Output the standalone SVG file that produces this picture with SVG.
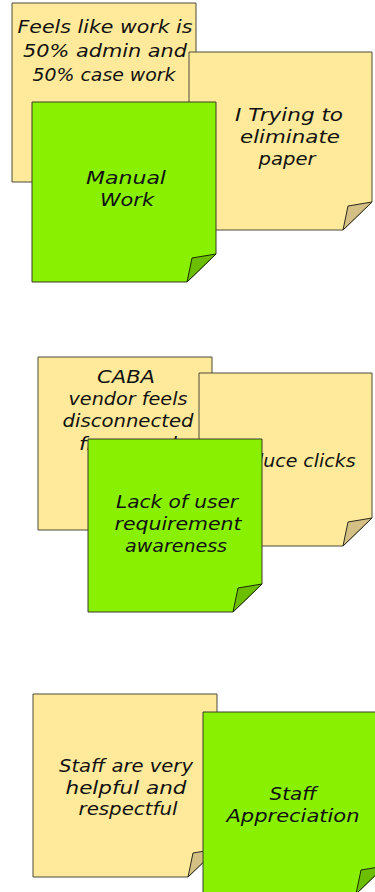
<svg xmlns="http://www.w3.org/2000/svg" width="375" height="892" viewBox="0 0 375 892">
  <style>
    .yellow { fill: #feea9a; stroke: #4a4a3a; stroke-width: 1; }
    .green { fill: #88f000; stroke: #3a3a2a; stroke-width: 1; }
    .curl-y { fill: #d4c085; stroke: #2a2a1a; stroke-width: 1; stroke-linejoin: round; }
    .curl-g { fill: #6cbf00; stroke: #1a2a00; stroke-width: 1; stroke-linejoin: round; }
    text { font-family: "DejaVu Sans", "Liberation Sans", sans-serif; font-style: italic; font-size: 18px; fill: #111; text-anchor: middle; }
  </style>

  <!-- Cluster 1 -->
  <g id="note-admin">
    <path class="yellow" d="M12 3 H196 V154 L167 182 H12 Z"/>
    <path class="curl-y" d="M196 154 L172 158 L167 182 Z"/>
    <text x="105" y="33" textLength="175" lengthAdjust="spacingAndGlyphs">Feels like work is</text>
    <text x="105" y="57" textLength="164" lengthAdjust="spacingAndGlyphs">50% admin and</text>
    <text x="104" y="81" textLength="143" lengthAdjust="spacingAndGlyphs">50% case work</text>
  </g>
  <g id="note-paper">
    <path class="yellow" d="M189 52 H372 V202 L343 230 H189 Z"/>
    <path class="curl-y" d="M372 202 L348 206 L343 230 Z"/>
    <text x="289" y="121" textLength="108" lengthAdjust="spacingAndGlyphs">I Trying to</text>
    <text x="290" y="143" textLength="100" lengthAdjust="spacingAndGlyphs">eliminate</text>
    <text x="287" y="165" textLength="57" lengthAdjust="spacingAndGlyphs">paper</text>
  </g>
  <g id="theme-manual-work">
    <path class="green" d="M32 102 H216 V254 L187 282 H32 Z"/>
    <path class="curl-g" d="M216 254 L192 258 L187 282 Z"/>
    <text x="126" y="184" textLength="80" lengthAdjust="spacingAndGlyphs">Manual</text>
    <text x="127" y="206" textLength="54" lengthAdjust="spacingAndGlyphs">Work</text>
  </g>

  <!-- Cluster 2 -->
  <g id="note-vendor">
    <path class="yellow" d="M38 357 H212 V502 L183 530 H38 Z"/>
    <path class="curl-y" d="M212 502 L188 506 L183 530 Z"/>
    <text x="126" y="383" textLength="58" lengthAdjust="spacingAndGlyphs">CABA</text>
    <text x="128" y="405" textLength="119" lengthAdjust="spacingAndGlyphs">vendor feels</text>
    <text x="128" y="427" textLength="131" lengthAdjust="spacingAndGlyphs">disconnected</text>
    <text x="128" y="450" textLength="98" lengthAdjust="spacingAndGlyphs">from end</text>
  </g>
  <g id="note-clicks">
    <path class="yellow" d="M199 373 H372 V518 L343 546 H199 Z"/>
    <path class="curl-y" d="M372 518 L348 522 L343 546 Z"/>
    <text x="291" y="467" textLength="129" lengthAdjust="spacingAndGlyphs">Reduce clicks</text>
  </g>
  <g id="theme-user-requirements">
    <path class="green" d="M88 439 H262 V584 L233 612 H88 Z"/>
    <path class="curl-g" d="M262 584 L238 588 L233 612 Z"/>
    <text x="177" y="508" textLength="122" lengthAdjust="spacingAndGlyphs">Lack of user</text>
    <text x="178" y="530" textLength="127" lengthAdjust="spacingAndGlyphs">requirement</text>
    <text x="176" y="552" textLength="102" lengthAdjust="spacingAndGlyphs">awareness</text>
  </g>

  <!-- Cluster 3 -->
  <g id="note-staff">
    <path class="yellow" d="M33 694 H217 V849 L188 877 H33 Z"/>
    <path class="curl-y" d="M217 849 L193 853 L188 877 Z"/>
    <text x="126" y="772" textLength="134" lengthAdjust="spacingAndGlyphs">Staff are very</text>
    <text x="126" y="794" textLength="121" lengthAdjust="spacingAndGlyphs">helpful and</text>
    <text x="128" y="815" textLength="99" lengthAdjust="spacingAndGlyphs">respectful</text>
  </g>
  <g id="theme-staff-appreciation">
    <path class="green" d="M203 712 H385 V866 L356 894 H203 Z"/>
    <path class="curl-g" d="M385 866 L361 870 L356 894 Z"/>
    <text x="293" y="800" textLength="47" lengthAdjust="spacingAndGlyphs">Staff</text>
    <text x="293" y="822" textLength="133" lengthAdjust="spacingAndGlyphs">Appreciation</text>
  </g>

  <g id="connectors"/>
</svg>
